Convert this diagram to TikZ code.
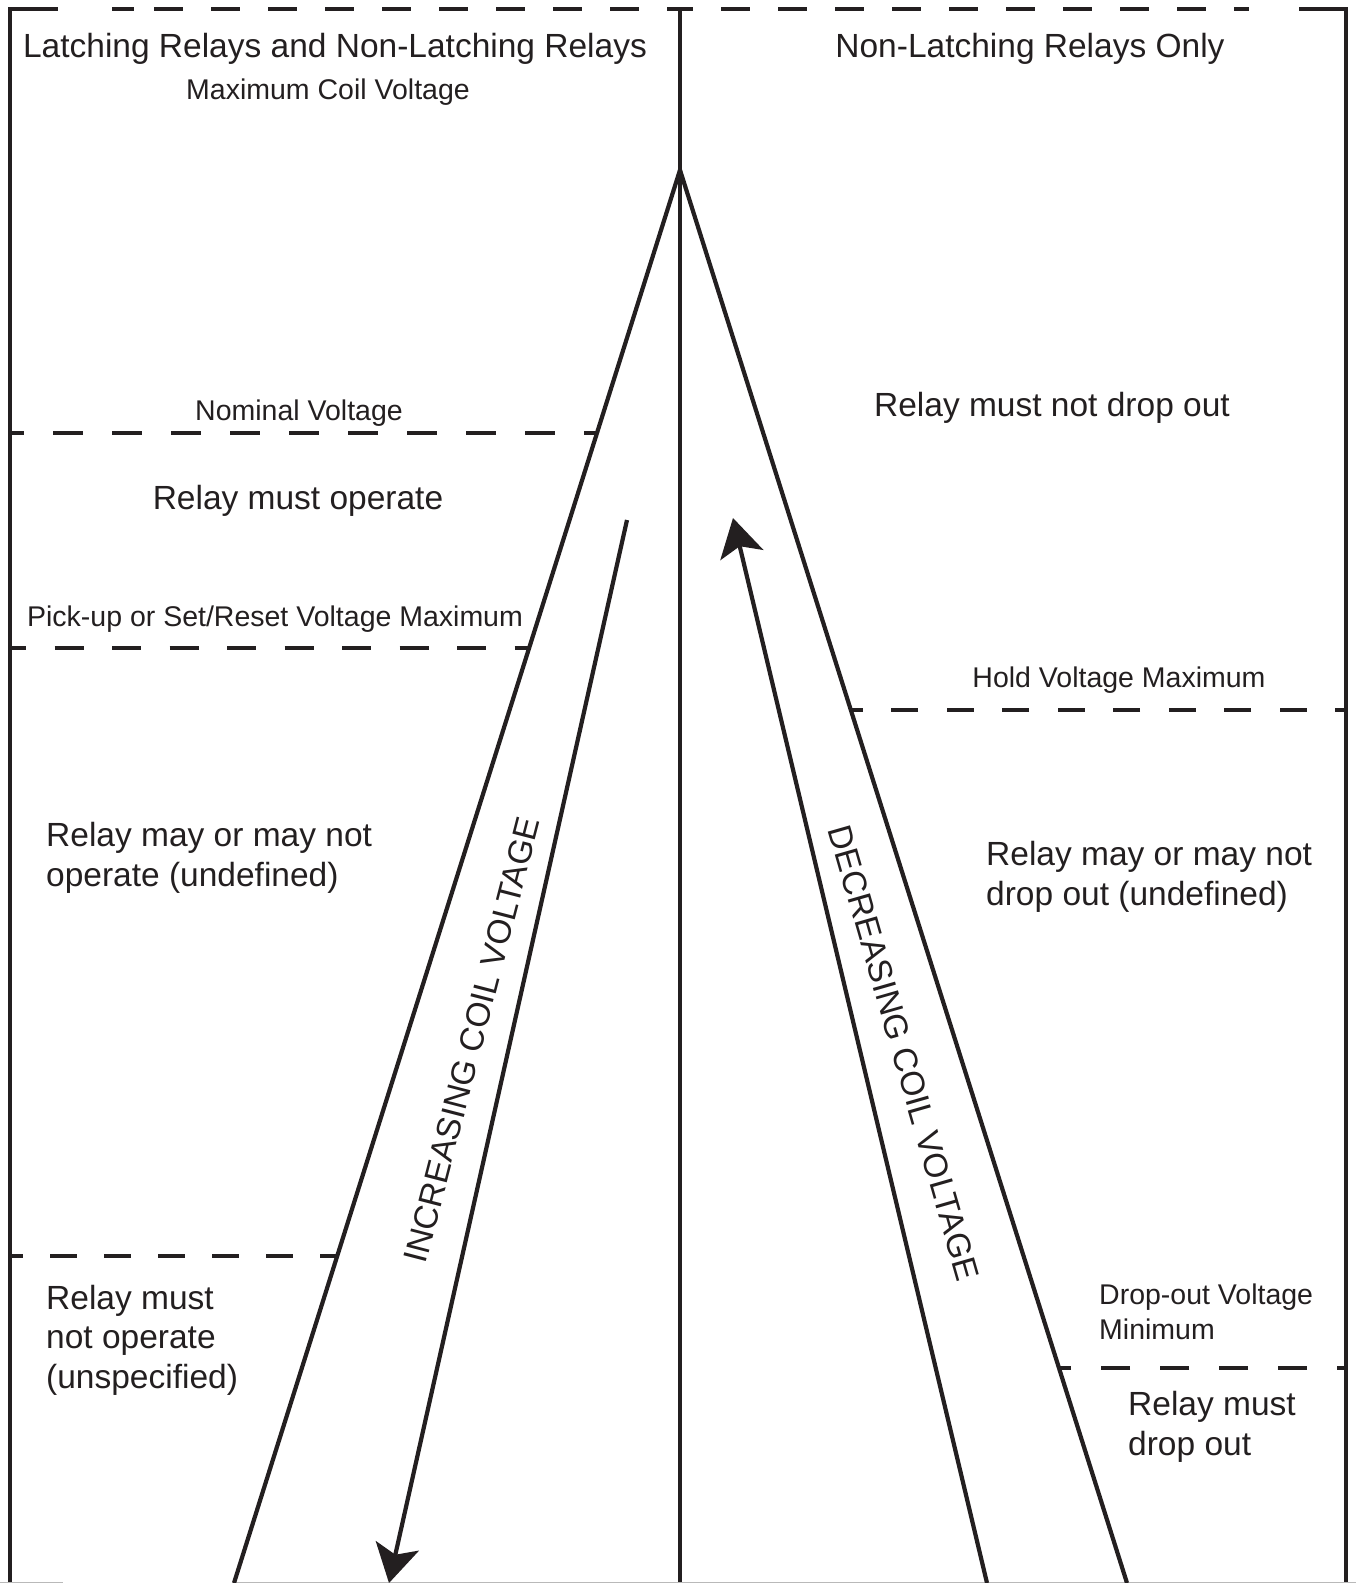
\documentclass[tikz,border=0pt]{standalone}
\usepackage{fontspec}
\setmainfont{Liberation Sans}
\usetikzlibrary{arrows.meta, positioning, calc}
\definecolor{inkline}{RGB}{35, 31, 32}
\definecolor{edgegray}{RGB}{185, 185, 185}
\tikzset{
  bigtext/.style={font=\fontsize{33.5}{39.5}\selectfont, text=inkline, inner sep=0pt},
  smalltext/.style={font=\fontsize{28.5}{34.5}\selectfont, text=inkline, inner sep=0pt},
  solidline/.style={draw=inkline, line width=4.2pt},
  levelline/.style={draw=inkline, line width=4.2pt, dash pattern=on 29pt off 28.5pt},
  coilarrow/.style={
    draw=inkline, line width=4.2pt,
    -{Stealth[length=38pt, width=44pt, inset=9pt]}
  }
}

\begin{document}
\begin{tikzpicture}[x=1pt, y=-1pt]
  \useasboundingbox (0,0) rectangle (1356,1583);

  % Frame points
  \coordinate (tl) at (10,9);
  \coordinate (tr) at (1346,9);
  \coordinate (bl) at (10,1583);
  \coordinate (br) at (1346,1583);
  \coordinate (mtop) at (680,9);
  \coordinate (mbot) at (680,1583);

  % V shape
  \coordinate (apex) at (680,170);
  \coordinate (vleft) at (234,1583);
  \coordinate (vright) at (1127,1583);

  % Frame
  \draw[solidline] (bl) -- (tl) -- ($(tl)+(48,0)$);
  \draw[solidline] (br) -- (tr) -- ($(tr)+(-47,0)$);
  \draw[solidline] (mbot) -- (mtop);
  \draw[solidline] ($(mtop)+(-13,0)$) -- ($(mtop)+(13,0)$);
  \draw[solidline] (112,9) -- (134,9);
  \draw[levelline, dash pattern=on 29pt off 28pt] (154,9) -- ($(mtop)+(-13,0)$);
  \draw[levelline, dash pattern=on 29pt off 28pt, dash phase=29pt] ($(mtop)+(13,0)$) -- (1249,9);
  \draw[edgegray, line width=1.2pt] (0,1582.4) -- (63,1582.4);
  \draw[edgegray, line width=1.2pt] (234,1582.4) -- (1356,1582.4);

  % Legs
  \draw[solidline] (vleft) -- (apex) -- (vright);

  % Level lines, left panel
  \coordinate (nomL) at ($(apex)!0.1861!(vleft)$);
  \coordinate (pickL) at ($(apex)!0.3383!(vleft)$);
  \coordinate (notopL) at ($(apex)!0.7686!(vleft)$);
  \draw[levelline, dash pattern=on 30pt off 29pt, dash phase=16pt] (tl |- nomL) -- (nomL);
  \draw[levelline, dash phase=13pt] (tl |- pickL) -- (pickL);
  \draw[levelline, dash pattern=on 27pt off 27pt, dash phase=14pt] (tl |- notopL) -- (notopL);

  % Level lines, right panel
  \coordinate (holdR) at ($(apex)!0.3822!(vright)$);
  \coordinate (dropR) at ($(apex)!0.8478!(vright)$);
  \draw[levelline, dash pattern=on 27pt off 28.5pt, dash phase=16pt] (tr |- holdR) -- (holdR);
  \draw[levelline, dash pattern=on 29pt off 30pt, dash phase=20pt] (tr |- dropR) -- (dropR);

  % Coil voltage arrows
  \coordinate (incstart) at (627,520);
  \coordinate (inctip) at (389,1583);
  \coordinate (decstart) at (987,1583);
  \coordinate (dectip) at (733,518);
  \draw[coilarrow] (incstart) -- (inctip);
  \draw[coilarrow] (decstart) -- (dectip);
  \node[bigtext, rotate=75.5] (inclabel) at (472,1040) {INCREASING COIL VOLTAGE};
  \node[bigtext, rotate=-74] (declabel) at (904,1053) {DECREASING COIL VOLTAGE};

  % Left panel texts
  \node[bigtext, anchor=base] (leftttl) at (335,57) {Latching Relays and Non-Latching Relays};
  \node[smalltext, anchor=base] (maxcoil) at (328,99) {Maximum Coil Voltage};
  \node[smalltext, anchor=base] (nomlbl) at (299,420) {Nominal Voltage};
  \node[bigtext, anchor=base] (mustop) at (298,509) {Relay must operate};
  \node[smalltext, anchor=base] (pickup) at (275,626) {Pick-up or Set/Reset Voltage Maximum};
  \node[bigtext, anchor=base west, align=left] (mayop) at (46,886) {Relay may or may not\\operate (undefined)};
  \node[bigtext, anchor=base west, align=left] (mustnotop) at (46,1388) {Relay must\\not operate\\(unspecified)};

  % Right panel texts
  \node[bigtext, anchor=base] (rightttl) at (1030,57) {Non-Latching Relays Only};
  \node[bigtext, anchor=base] (mustnotdrop) at (1052,416) {Relay must not drop out};
  \node[smalltext, anchor=base] (holdlbl) at (1119,687) {Hold Voltage Maximum};
  \node[bigtext, anchor=base west, align=left] (maydrop) at (986,905) {Relay may or may not\\drop out (undefined)};
  \node[smalltext, anchor=base west, align=left] (droplbl) at (1099,1339) {Drop-out Voltage\\Minimum};
  \node[bigtext, anchor=base west, align=left] (mustdrop) at (1128,1455) {Relay must\\drop out};
\end{tikzpicture}
\end{document}
